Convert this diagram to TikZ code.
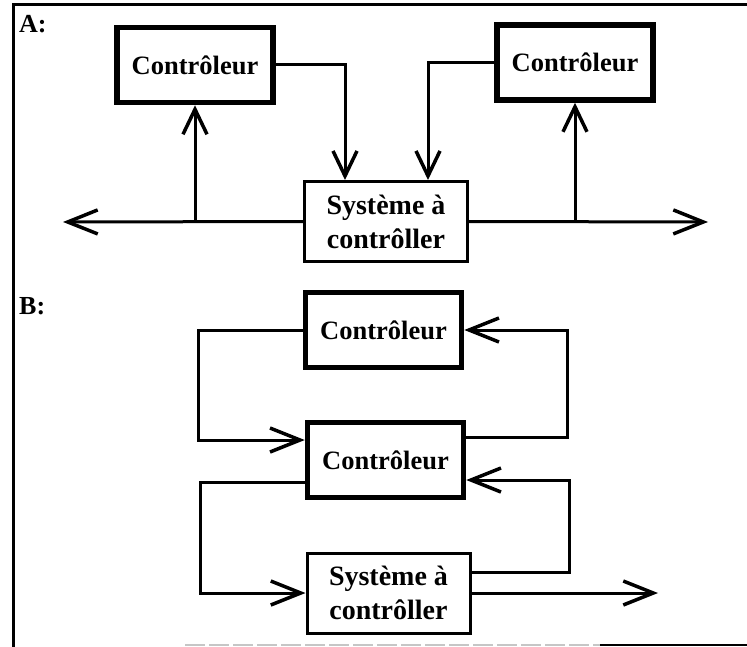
\documentclass[tikz,border=0pt]{standalone}
\usepackage{fontspec}
\setmainfont{Liberation Serif}
\usetikzlibrary{arrows.meta}
\tikzset{
  lbl/.style={font=\bfseries\fontsize{26}{32}\selectfont, inner sep=0pt},
  ctrl/.style={draw, line width=5.5pt, minimum width=156pt, minimum height=75pt, inner sep=0pt, font=\bfseries\fontsize{26.5}{32}\selectfont},
  sysbox/.style={draw, line width=3pt, minimum width=163pt, minimum height=80pt, inner sep=0pt, align=center, font=\bfseries\fontsize{28}{34}\selectfont},
  conn/.style={line width=3pt},
  arr/.style={conn, -{Straight Barb[length=30pt,width=24pt,line width=3.5pt]}},
  arrv/.style={conn, -{Straight Barb[length=25pt,width=24pt,line width=3.5pt]}},
  frame/.style={line width=3pt}
}
\begin{document}
\begin{tikzpicture}[x=1pt,y=-1pt]
\useasboundingbox (0,0) rectangle (747,647);
% frame
\draw[frame] (13,647) -- (13,5) -- (747,5);
\draw[line width=2pt, gray!45, dash pattern=on 20pt off 4pt] (185,645) -- (600,645);
\draw[line width=2.5pt] (600,645) -- (747,645);
% labels
\node[lbl, anchor=north west] (la) at (19,15) {A:};
\node[lbl, anchor=north west] (lb) at (19,297) {B:};
% Panel A
\node[ctrl] (c1) at (195,65) {Contrôleur};
\node[ctrl] (c2) at (575,62.5) {Contrôleur};
\node[sysbox] (sa) at (386,221.5) {Système à\\contrôller};
\coordinate (aL) at (63,222);
\coordinate (aR) at (708,222);
\draw[arr] (sa.west) -- (aL);
\draw[arr] (sa.east) -- (aR);
\coordinate (j1) at (c1.south |- sa.west);
\coordinate (j2) at (c2.south |- sa.east);
\draw[arrv] (j1) -- (c1.south);
\draw[arrv] (j2) -- (c2.south);
\draw[arrv] (c1.east) -| ([xshift=-41pt]sa.north);
\draw[arrv] (c2.west) -| ([xshift=42pt]sa.north);
% Panel B
\node[ctrl] (b1) at (383.5,330) {Contrôleur};
\node[ctrl] (b2) at (385.5,460) {Contrôleur};
\node[sysbox] (s2) at (388.5,593) {Système à\\contrôller};
\coordinate (L1) at (198,400);
\coordinate (L2) at (200,500);
\coordinate (R1) at (567,400);
\coordinate (R2) at (569,500);
\coordinate (out) at (658,593);
\draw[arr] (b1.west) -- (b1.west -| L1) |- ([yshift=20pt]b2.west);
\draw[arr] ([yshift=-22pt]b2.west) -- ([yshift=-22pt]b2.west -| L2) |- (s2.west);
\draw[arr] ([yshift=23pt]b2.east) -- ([yshift=23pt]b2.east -| R1) |- (b1.east);
\draw[arr] ([yshift=21pt]s2.east) -- ([yshift=21pt]s2.east -| R2) |- ([yshift=-20pt]b2.east);
\draw[arr] (s2.east) -- (out);
\end{tikzpicture}
\end{document}
